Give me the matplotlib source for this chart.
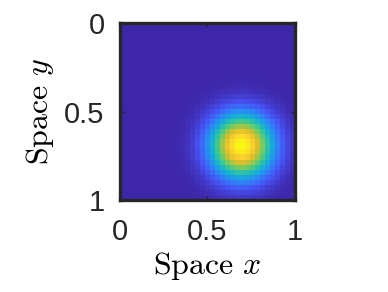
import numpy as np
import matplotlib
matplotlib.use('Agg')
import matplotlib.pyplot as plt
from matplotlib.colors import LinearSegmentedColormap

# blob: peak position and spread in unit space
n_cells = 35
peak_x = 0.70
peak_y = 0.70
spread = 0.125
ticks = [0, 0.5, 1]
tick_labels = ['0', '0.5', '1']

# parula-like colour map
parula = LinearSegmentedColormap.from_list('parula', [
    (0.2422, 0.1504, 0.6603),
    (0.2810, 0.3228, 0.9579),
    (0.1786, 0.5289, 0.9682),
    (0.0689, 0.6948, 0.8394),
    (0.2161, 0.7843, 0.5923),
    (0.5044, 0.7993, 0.3480),
    (0.8634, 0.7406, 0.1596),
    (0.9892, 0.8136, 0.1885),
    (0.9769, 0.9839, 0.0805),
])

plt.rcParams['mathtext.fontset'] = 'cm'
plt.rcParams['font.family'] = ['Liberation Sans', 'DejaVu Sans']

xs = np.linspace(0, 1, n_cells)
X, Y = np.meshgrid(xs, xs)
field = np.exp(-((X - peak_x) ** 2 + (Y - peak_y) ** 2) / (2 * spread ** 2))

fig = plt.figure(figsize=(3.88, 2.92), dpi=100)
ax = fig.add_axes([0.309, 0.315, 0.451, 0.606])
ax.imshow(field, cmap=parula, extent=(0, 1, 1, 0), origin='upper',
          interpolation='nearest', aspect='auto')
ax.set_xlim(0, 1)
ax.set_ylim(1, 0)
ax.set_xticks(ticks)
ax.set_xticklabels(tick_labels)
ax.set_yticks(ticks)
ax.set_yticklabels(tick_labels)
ax.tick_params(direction='in', length=3, width=1, labelsize=21,
               top=True, right=True, colors='#262626')
ax.tick_params(axis='x', pad=13)
ax.tick_params(axis='y', pad=11)
for s in ax.spines.values():
    s.set_linewidth(2.4)
    s.set_color('#262626')

ax.set_xlabel(r'$\mathrm{Space}\ x$', fontsize=23, labelpad=3)
ax.set_ylabel(r'$\mathrm{Space}\ y$', fontsize=23, labelpad=6)

fig.savefig('out.png', dpi=100)
